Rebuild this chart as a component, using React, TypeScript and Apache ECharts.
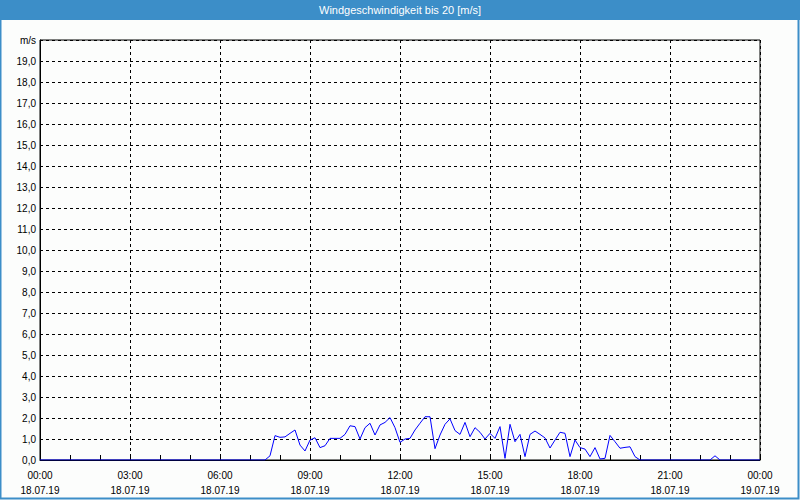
import React, { useEffect, useRef } from "react";
import * as echarts from "echarts";

const TITLE = "Windgeschwindigkeit bis 20 [m/s]";
const Y_UNIT = "m/s";
const X_TICK_TIMES = ["00:00", "03:00", "06:00", "09:00", "12:00", "15:00", "18:00", "21:00", "00:00"];
const X_TICK_DATES = ["18.07.19", "18.07.19", "18.07.19", "18.07.19", "18.07.19", "18.07.19", "18.07.19", "18.07.19", "19.07.19"];

const times = [
  "00:00", "07:30", "07:40", "07:50", "08:00", "08:10", "08:20", "08:30", "08:40", "08:50",
  "09:00", "09:10", "09:20", "09:30", "09:40", "09:50", "10:00", "10:10", "10:20", "10:30",
  "10:40", "10:50", "11:00", "11:10", "11:20", "11:30", "11:40", "11:50", "12:00", "12:10",
  "12:20", "12:30", "12:40", "12:50", "13:00", "13:10", "13:20", "13:30", "13:40", "13:50",
  "14:00", "14:10", "14:20", "14:30", "14:40", "14:50", "15:00", "15:10", "15:20", "15:30",
  "15:40", "15:50", "16:00", "16:10", "16:20", "16:30", "16:40", "16:50", "17:00", "17:10",
  "17:20", "17:30", "17:40", "17:50", "18:00", "18:10", "18:20", "18:30", "18:40", "18:50",
  "19:00", "19:10", "19:20", "19:30", "19:40", "19:50", "20:00", "22:20", "22:30", "22:40",
  "24:00",
];

const speeds = [
  0, 0, 0.2, 1.16, 1.08, 1.1, 1.27, 1.43, 0.71, 0.43,
  0.95, 1.06, 0.59, 0.68, 1.03, 1.03, 1.03, 1.22, 1.63, 1.59,
  1.0, 1.54, 1.75, 1.19, 1.67, 1.79, 2.02, 1.54, 0.84, 1.0,
  1.03, 1.43, 1.75, 2.06, 2.06, 0.54, 1.19, 1.7, 1.96, 1.4,
  1.22, 1.79, 1.11, 1.54, 1.32, 1.0, 1.27, 1.03, 1.59, 0.08,
  1.7, 0.87, 1.22, 0.16, 1.22, 1.38, 1.22, 1.05, 0.57, 0.95,
  1.32, 1.27, 0.16, 0.95, 0.59, 0.52, 0.16, 0.59, 0.05, 0.08,
  1.17, 0.87, 0.56, 0.6, 0.63, 0.16, 0, 0, 0.2, 0,
  0,
];

const BLUE = "#3c8ec8";
const FONT = "'Liberation Sans', Arial, sans-serif";

function toHours(t: string): number {
  const [h, m] = t.split(":").map(Number);
  return h + m / 60;
}

export default function App() {
  const ref = useRef<HTMLDivElement>(null);

  useEffect(() => {
    document.body.style.margin = "0";
    if (!ref.current) return;
    const chart = echarts.init(ref.current, null, { renderer: "svg" });
    const data = times.map((t, i) => [toHours(t), speeds[i]]);

    chart.setOption({
      animation: false,
      backgroundColor: "#fcfdfc",
      textStyle: { fontFamily: FONT },
      graphic: [
        { type: "rect", shape: { x: 0, y: 0, width: 800, height: 20 }, style: { fill: BLUE }, z: 10 },
        {
          type: "text",
          x: 400,
          y: 10,
          style: { text: TITLE, fill: "#ffffff", font: `11px ${FONT}`, align: "center", verticalAlign: "middle" },
          z: 11,
        },
        {
          type: "polyline",
          shape: { points: [[0.5, 0], [0.5, 498.5], [798.5, 498.5], [798.5, 0]] },
          style: { stroke: BLUE, lineWidth: 2, fill: null },
          z: 10,
        },
      ],
      grid: {
        left: 40,
        right: 40,
        top: 40,
        bottom: 40,
        show: true,
        backgroundColor: "#fcfdfc",
        borderColor: "#000",
        borderWidth: 1,
      },
      xAxis: {
        type: "value",
        min: 0,
        max: 24,
        interval: 3,
        z: 3,
        axisLine: { show: true, lineStyle: { color: "#000", width: 1 } },
        axisTick: { show: true, inside: true, length: 5, lineStyle: { color: "#000" } },
        minorTick: { show: true, splitNumber: 3, length: 5, lineStyle: { color: "#000" } },
        splitLine: { show: true, lineStyle: { color: "#000", type: [3, 3], width: 1 } },
        axisLabel: {
          color: "#000",
          fontSize: 10,
          fontFamily: FONT,
          lineHeight: 15,
          margin: 8,
          formatter: (v: number) => {
            const i = Math.round(v / 3);
            return `${X_TICK_TIMES[i]}\n${X_TICK_DATES[i]}`;
          },
        },
      },
      yAxis: {
        type: "value",
        min: 0,
        max: 20,
        interval: 1,
        z: 3,
        axisLine: { show: true, lineStyle: { color: "#000", width: 1 } },
        axisTick: { show: false },
        splitLine: { show: true, lineStyle: { color: "#000", type: [3, 3], width: 1 } },
        axisLabel: {
          color: "#000",
          fontSize: 10,
          fontFamily: FONT,
          margin: 4,
          formatter: (v: number) => (v === 20 ? Y_UNIT : v.toFixed(1).replace(".", ",")),
        },
      },
      series: [
        {
          type: "line",
          data,
          showSymbol: false,
          symbol: "none",
          lineStyle: { color: "#0000ff", width: 1 },
          itemStyle: { color: "#0000ff" },
        },
      ],
    });

    return () => chart.dispose();
  }, []);

  return <div ref={ref} style={{ width: 800, height: 500 }} />;
}
